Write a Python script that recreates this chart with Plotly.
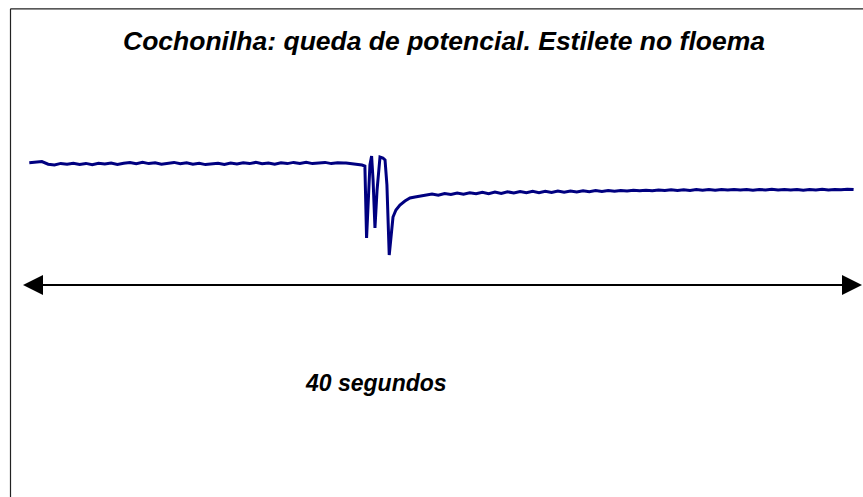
import plotly.graph_objects as go

# ---- data (time in seconds, potential in arbitrary units) ----
t_pre = [0.3, 0.6, 0.9, 1.2, 1.5, 1.8, 2.1, 2.4, 2.7, 3.0, 3.3, 3.6, 3.9, 4.2, 4.5,
         4.8, 5.1, 5.4, 5.7, 6.0, 6.3, 6.6, 6.9, 7.2, 7.5, 7.8, 8.1, 8.4, 8.7, 9.0,
         9.3, 9.6, 9.9, 10.2, 10.5, 10.8, 11.1, 11.4, 11.7, 12.0, 12.3, 12.6, 12.9,
         13.2, 13.5, 13.8, 14.1, 14.4, 14.7, 15.0, 15.3]
v_pre = [13.72, 13.76, 13.84, 13.58, 13.50, 13.66, 13.58, 13.68, 13.56, 13.66, 13.54,
         13.68, 13.60, 13.70, 13.56, 13.68, 13.74, 13.62, 13.76, 13.64, 13.72, 13.58,
         13.70, 13.76, 13.62, 13.72, 13.58, 13.68, 13.54, 13.64, 13.68, 13.56, 13.70,
         13.60, 13.72, 13.64, 13.76, 13.62, 13.70, 13.58, 13.72, 13.64, 13.76, 13.66,
         13.78, 13.64, 13.72, 13.76, 13.64, 13.72, 13.70]

t_spk = [15.40, 16.16, 16.30, 16.38, 16.45, 16.54, 16.62, 16.69, 16.78, 16.88, 17.02,
         17.16, 17.26, 17.35, 17.46, 17.54, 17.64, 17.78, 17.97, 18.21, 18.45, 18.69,
         18.93]
v_spk = [13.70, 13.50, 13.40, 6.20, 10.00, 13.50, 14.40, 12.00, 7.20, 11.00, 14.30,
         14.20, 14.00, 11.50, 4.50, 6.50, 8.30, 9.00, 9.50, 9.90, 10.20, 10.30, 10.40]

t_post = [19.2, 19.5, 19.8, 20.1, 20.4, 20.7, 21.0, 21.3, 21.6, 21.9, 22.2, 22.5, 22.8,
          23.1, 23.4, 23.7, 24.0, 24.3, 24.6, 24.9, 25.2, 25.5, 25.8, 26.1, 26.4, 26.7,
          27.0, 27.3, 27.6, 27.9, 28.2, 28.5, 28.8, 29.1, 29.4, 29.7, 30.0, 30.3, 30.6,
          30.9, 31.2, 31.5, 31.8, 32.1, 32.4, 32.7, 33.0, 33.3, 33.6, 33.9, 34.2, 34.5,
          34.8, 35.1, 35.4, 35.7, 36.0, 36.3, 36.6, 36.9, 37.2, 37.5, 37.8, 38.1, 38.4,
          38.7, 39.0, 39.3, 39.6]
v_post = [10.45, 10.60, 10.48, 10.65, 10.55, 10.70, 10.58, 10.72, 10.62, 10.78, 10.64,
          10.80, 10.66, 10.82, 10.70, 10.84, 10.72, 10.86, 10.74, 10.88, 10.76, 10.90,
          10.78, 10.90, 10.80, 10.92, 10.82, 10.94, 10.86, 10.94, 10.88, 10.96, 10.90,
          10.98, 10.92, 10.98, 10.92, 11.00, 10.94, 11.02, 10.96, 11.02, 10.96, 11.04,
          10.98, 11.04, 10.98, 11.06, 11.00, 11.06, 11.00, 11.04, 10.98, 11.06, 11.00,
          11.08, 11.00, 11.06, 11.00, 11.06, 10.98, 11.06, 11.00, 11.08, 11.00, 11.06,
          11.02, 11.08, 11.04]

arrow_start, arrow_end, arrow_level = 0.0, 40.0, 1.5
title_text = "Cochonilha: queda de potencial. Estilete no floema"
label_text = "40 segundos"

t = t_pre + t_spk + t_post
v = v_pre + v_spk + v_post

W, H = 863, 497
# axis mapping: 40 s spans 839 px starting at px 23
sec_px = 839 / 40.0
x0 = -23 / sec_px
x1 = (W - 23) / sec_px
y_top, y_bot = 30.0, 30.0 - H / 10.0

fig = go.Figure()
fig.add_trace(go.Scatter(x=t, y=v, mode="lines",
                         line=dict(color="#000080", width=3),
                         hoverinfo="skip", showlegend=False))

head_w = 20 / sec_px
head_h = 1.0
bx, by = 10.5 / W, 1 - 8.8 / H
shapes = [
    dict(type="line", xref="x", yref="y", x0=arrow_start + head_w * 0.5, x1=arrow_end - head_w * 0.5,
         y0=arrow_level, y1=arrow_level, line=dict(color="black", width=2)),
    dict(type="path", xref="x", yref="y",
         path=f"M {arrow_start} {arrow_level} L {arrow_start + head_w} {arrow_level + head_h} "
              f"L {arrow_start + head_w} {arrow_level - head_h} Z",
         fillcolor="black", line=dict(color="black", width=0)),
    dict(type="path", xref="x", yref="y",
         path=f"M {arrow_end} {arrow_level} L {arrow_end - head_w} {arrow_level + head_h} "
              f"L {arrow_end - head_w} {arrow_level - head_h} Z",
         fillcolor="black", line=dict(color="black", width=0)),
    # chart-area border (top and left edges visible in the crop)
    dict(type="line", xref="paper", yref="paper", x0=bx, x1=1.02, y0=by, y1=by,
         line=dict(color="#222222", width=1.2)),
    dict(type="line", xref="paper", yref="paper", x0=bx, x1=bx, y0=-0.02, y1=by,
         line=dict(color="#222222", width=1.2)),
]

annotations = [
    dict(text=f"<b><i>{title_text}</i></b>", xref="paper", yref="paper",
         x=444 / W, y=1 - 41 / H, xanchor="center", yanchor="middle", showarrow=False,
         font=dict(family="Liberation Sans, Arial", size=26.5, color="black")),
    dict(text=f"<b><i>{label_text}</i></b>", xref="paper", yref="paper",
         x=376 / W, y=1 - 383 / H, xanchor="center", yanchor="middle", showarrow=False,
         font=dict(family="Liberation Sans, Arial", size=23, color="black")),
]

fig.update_layout(
    width=W, height=H, margin=dict(l=0, r=0, t=0, b=0),
    paper_bgcolor="white", plot_bgcolor="white",
    xaxis=dict(range=[x0, x1], visible=False, fixedrange=True),
    yaxis=dict(range=[y_bot, y_top], visible=False, fixedrange=True),
    shapes=shapes, annotations=annotations, showlegend=False,
)
fig.write_html("out.html", config={"displayModeBar": False},
               post_script=("document.body.style.margin='0px';"
                            "document.body.style.overflow='hidden';"
                            "document.documentElement.style.overflow='hidden';"))
